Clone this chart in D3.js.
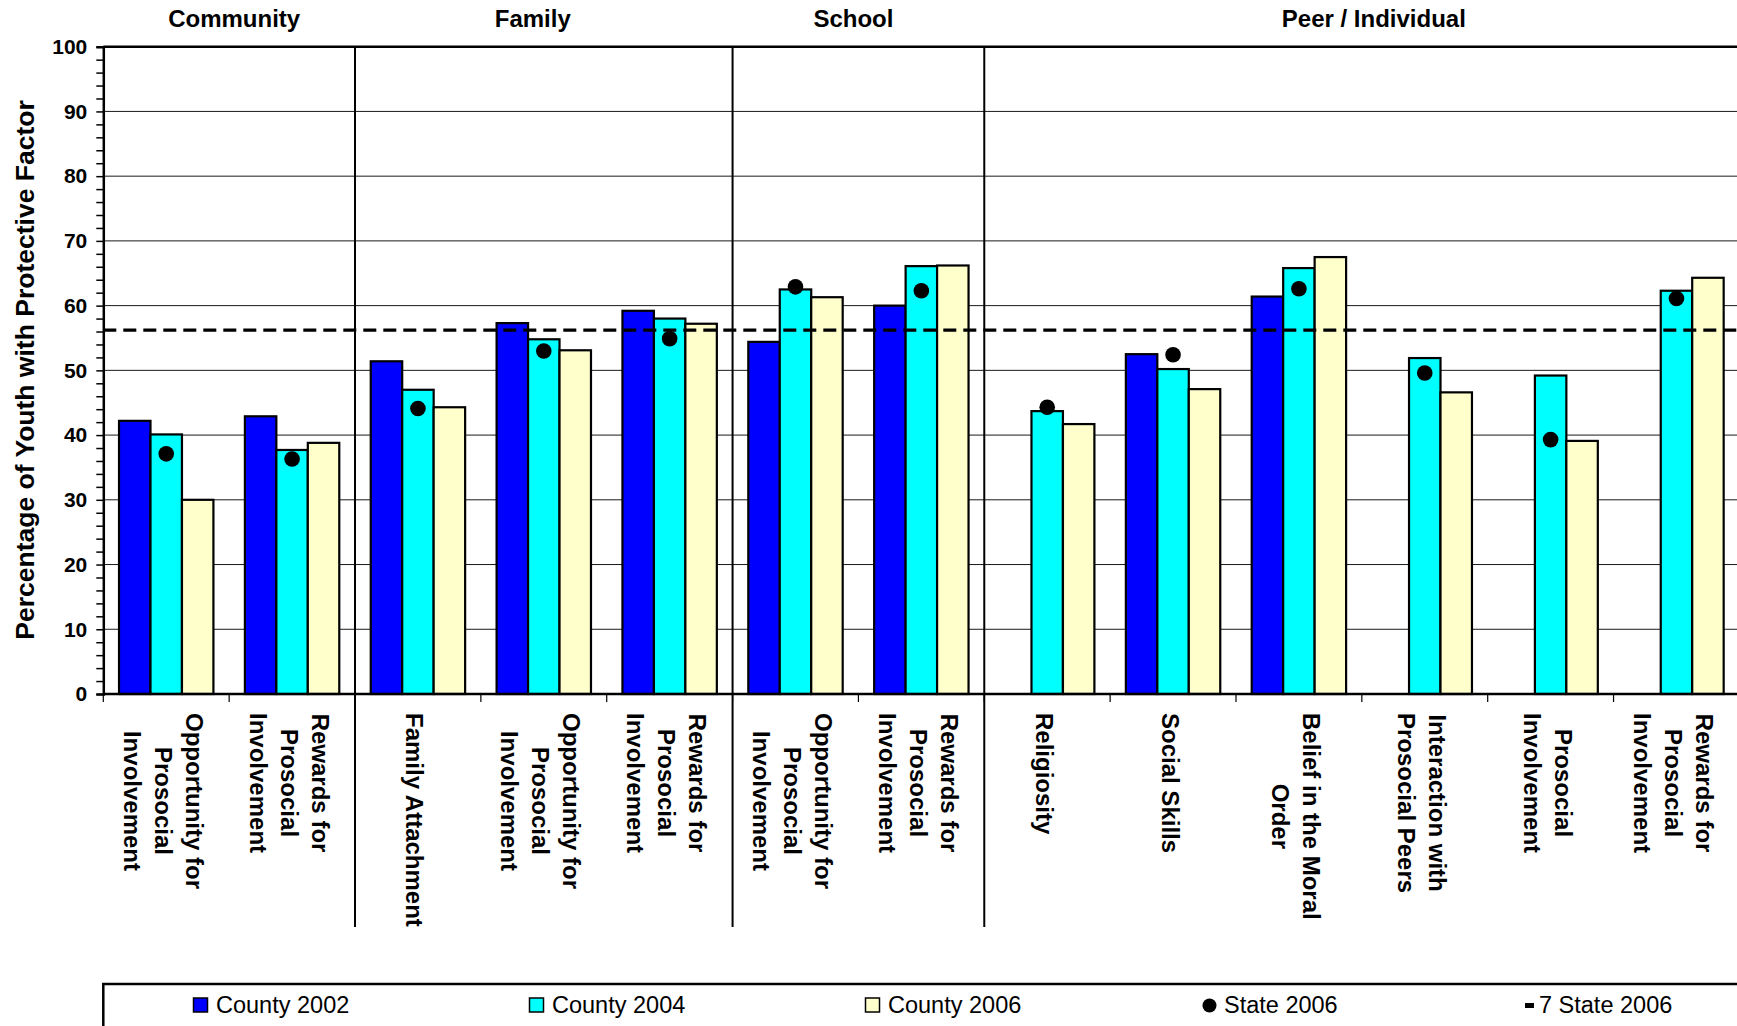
<!DOCTYPE html>
<html>
<head>
<meta charset="utf-8">
<script src="https://cdn.jsdelivr.net/npm/d3@7/dist/d3.min.js"></script>
<style>
  html, body { margin: 0; padding: 0; background: #ffffff; }
  svg { display: block; font-family: "Liberation Sans", Arial, sans-serif; }
</style>
</head>
<body>
<svg id="chart" width="1737" height="1026"></svg>
<script>
// Protective factor categories (line breaks as shown under the axis)
const categories = [
  "Opportunity for\nProsocial\nInvolvement",
  "Rewards for\nProsocial\nInvolvement",
  "Family Attachment",
  "Opportunity for\nProsocial\nInvolvement",
  "Rewards for\nProsocial\nInvolvement",
  "Opportunity for\nProsocial\nInvolvement",
  "Rewards for\nProsocial\nInvolvement",
  "Religiosity",
  "Social Skills",
  "Belief in the Moral\nOrder",
  "Interaction with\nProsocial Peers",
  "Prosocial\nInvolvement",
  "Rewards for\nProsocial\nInvolvement"
];

// Domains and how many categories each one spans
const domainNames = ["Community", "Family", "School", "Peer / Individual"];
const domainSizes = [2, 3, 2, 6];

// Percentage of youth with each protective factor
const county2002 = [42.2, 42.9, 51.4, 57.3, 59.2, 54.4, 60.0, null, 52.5, 61.4, null, null, null];
const county2004 = [40.1, 37.7, 47.0, 54.8, 58.0, 62.5, 66.1, 43.7, 50.2, 65.8, 51.9, 49.2, 62.3];
const county2006 = [30.0, 38.8, 44.3, 53.1, 57.2, 61.3, 66.2, 41.7, 47.1, 67.5, 46.6, 39.1, 64.3];
const state2006  = [37.1, 36.3, 44.1, 53.0, 54.9, 62.9, 62.3, 44.3, 52.4, 62.6, 49.6, 39.3, 61.1];
const sevenState2006 = 56.2;

const seriesNames  = ["County 2002", "County 2004", "County 2006"];
const seriesColors = ["#0000FF", "#00FFFF", "#FFFFCC"];
const seriesValues = [county2002, county2004, county2006];
const legendLabels = ["County 2002", "County 2004", "County 2006", "State 2006", "7 State 2006"];
const yTicks = d3.range(0, 101, 10);

const svg = d3.select("#chart");
const FONT = "'Liberation Sans', Arial, sans-serif";

const plotLeft = 103.3, plotRight = 1739.4, plotTop = 46.7, plotBottom = 694;

const y = d3.scaleLinear().domain([0, 100]).range([plotBottom, plotTop]);
const x = d3.scaleBand().domain(d3.range(categories.length)).range([plotLeft, plotRight])
  .paddingInner(0).paddingOuter(0);
const xs = d3.scaleBand().domain(d3.range(seriesNames.length)).range([0, x.bandwidth()])
  .paddingInner(0).paddingOuter(0.5);

// horizontal gridlines
svg.append("g").selectAll("line")
  .data(yTicks.filter(v => v > 0 && v < 100))
  .join("line")
  .attr("x1", plotLeft).attr("x2", plotRight)
  .attr("y1", d => y(d)).attr("y2", d => y(d))
  .attr("stroke", "#1a1a1a").attr("stroke-width", 1);

// plot top border
svg.append("line")
  .attr("x1", plotLeft).attr("x2", plotRight)
  .attr("y1", y(100)).attr("y2", y(100))
  .attr("stroke", "#000").attr("stroke-width", 2.5);

// domain boundaries for the dividers
const boundaries = [];
let acc = 0;
domainSizes.forEach(s => { acc += s; boundaries.push(acc); });
const edgeX = i => (i >= categories.length ? plotRight : x(i));

// vertical dividers between domains (run down through the category labels)
svg.append("g").selectAll("line")
  .data(boundaries.slice(0, -1))
  .join("line")
  .attr("x1", d => edgeX(d)).attr("x2", d => edgeX(d))
  .attr("y1", plotTop).attr("y2", 927)
  .attr("stroke", "#000").attr("stroke-width", 2);

// bars
const barData = [];
seriesValues.forEach((vals, s) => vals.forEach((v, i) => {
  if (v != null) barData.push({ s, i, v });
}));
svg.append("g").selectAll("rect")
  .data(barData)
  .join("rect")
  .attr("x", d => x(d.i) + xs(d.s))
  .attr("width", xs.bandwidth())
  .attr("y", d => y(d.v))
  .attr("height", d => y(0) - y(d.v))
  .attr("fill", d => seriesColors[d.s])
  .attr("stroke", "#000").attr("stroke-width", 2.2);

// 7-state average reference line
svg.append("line")
  .attr("x1", plotLeft).attr("x2", plotRight)
  .attr("y1", y(sevenState2006)).attr("y2", y(sevenState2006))
  .attr("stroke", "#000").attr("stroke-width", 3.3)
  .attr("stroke-dasharray", "13,7");

// state markers, centred on the middle bar
svg.append("g").selectAll("circle")
  .data(state2006.map((v, i) => ({ v, i })).filter(d => d.v != null))
  .join("circle")
  .attr("cx", d => x(d.i) + xs(1) + xs.bandwidth() / 2)
  .attr("cy", d => y(d.v))
  .attr("r", 7.8)
  .attr("fill", "#000");

// y axis: minor ticks every 2, labels every 10
const yAxis = d3.axisLeft(y)
  .tickValues(d3.range(0, 101, 2))
  .tickSize(7).tickPadding(9)
  .tickFormat(d => (d % 10 === 0 ? d : ""));
const yg = svg.append("g").attr("transform", `translate(${plotLeft},0)`).call(yAxis);
yg.select(".domain").attr("stroke", "#000").attr("stroke-width", 2.5);
yg.selectAll(".tick line").attr("stroke", "#000").attr("stroke-width", 1.5);
yg.selectAll(".tick text")
  .attr("font-family", FONT).attr("font-size", 21).attr("font-weight", "bold").attr("fill", "#000");

// x axis baseline and category boundary ticks
svg.append("line")
  .attr("x1", plotLeft).attr("x2", plotRight)
  .attr("y1", y(0)).attr("y2", y(0))
  .attr("stroke", "#000").attr("stroke-width", 2.5);
svg.append("g").selectAll("line")
  .data(d3.range(categories.length + 1))
  .join("line")
  .attr("x1", d => edgeX(d)).attr("x2", d => edgeX(d))
  .attr("y1", y(0)).attr("y2", y(0) + 8)
  .attr("stroke", "#000").attr("stroke-width", 1.2);

// rotated category labels, multi-line and centred within their own block
const lineGap = 31;
const labelGroups = svg.append("g").selectAll("g")
  .data(categories)
  .join("g")
  .attr("transform", (d, i) => `translate(${x(i) + x.bandwidth() / 2 - 3},713) rotate(90)`);
labelGroups.each(function (d) {
  const g = d3.select(this);
  const lines = d.split("\n");
  const texts = g.selectAll("text").data(lines).join("text")
    .attr("font-family", FONT).attr("font-size", 24).attr("font-weight", "bold")
    .attr("fill", "#000")
    .attr("text-anchor", "middle")
    .attr("dominant-baseline", "central")
    .attr("y", (t, k) => (k - (lines.length - 1) / 2) * lineGap)
    .text(t => t);
  let w = 0;
  texts.each(function () { w = Math.max(w, this.getComputedTextLength()); });
  texts.attr("x", w / 2);
});

// domain headings, set slightly off the span centres
const headingNudge = [5, -11, -5, 12];
let start = 0;
const headings = domainNames.map((name, k) => {
  const a = edgeX(start), b = edgeX(start + domainSizes[k]);
  start += domainSizes[k];
  return { name, cx: (a + b) / 2 + headingNudge[k] };
});
svg.append("g").selectAll("text")
  .data(headings)
  .join("text")
  .attr("x", d => d.cx).attr("y", 27)
  .attr("text-anchor", "middle")
  .attr("font-family", FONT).attr("font-size", 24).attr("font-weight", "bold")
  .text(d => d.name);

// y axis title
svg.append("text")
  .attr("transform", `translate(25,370) rotate(-90)`)
  .attr("text-anchor", "middle")
  .attr("dominant-baseline", "central")
  .attr("font-family", FONT).attr("font-size", 26.5).attr("font-weight", "bold")
  .text("Percentage of Youth with Protective Factor");

// legend box (runs off the right and bottom edges)
svg.append("rect")
  .attr("x", 103.3).attr("y", 984)
  .attr("width", 1700).attr("height", 100)
  .attr("fill", "none").attr("stroke", "#000").attr("stroke-width", 2.5);

const legendX = d3.scaleLinear().domain([0, 1]).range([193, 529]);
const legend = svg.append("g").selectAll("g")
  .data(legendLabels)
  .join("g")
  .attr("transform", (d, i) => `translate(${legendX(i)},0)`);

legend.each(function (label, i) {
  const g = d3.select(this);
  let textX = 23;
  if (i < 3) {
    g.append("rect")
      .attr("x", 0.5).attr("y", 998).attr("width", 14).attr("height", 14)
      .attr("fill", seriesColors[i]).attr("stroke", "#000").attr("stroke-width", 1.5);
  } else if (i === 3) {
    g.append("circle").attr("cx", 8.5).attr("cy", 1005.5).attr("r", 7).attr("fill", "#000");
  } else {
    g.append("rect").attr("x", -12).attr("y", 1003).attr("width", 9).attr("height", 5).attr("fill", "#000");
    textX = 2;
  }
  g.append("text")
    .attr("x", textX).attr("y", 1013)
    .attr("font-family", FONT).attr("font-size", 23.5)
    .attr("fill", "#000")
    .text(label);
});
</script>
</body>
</html>
